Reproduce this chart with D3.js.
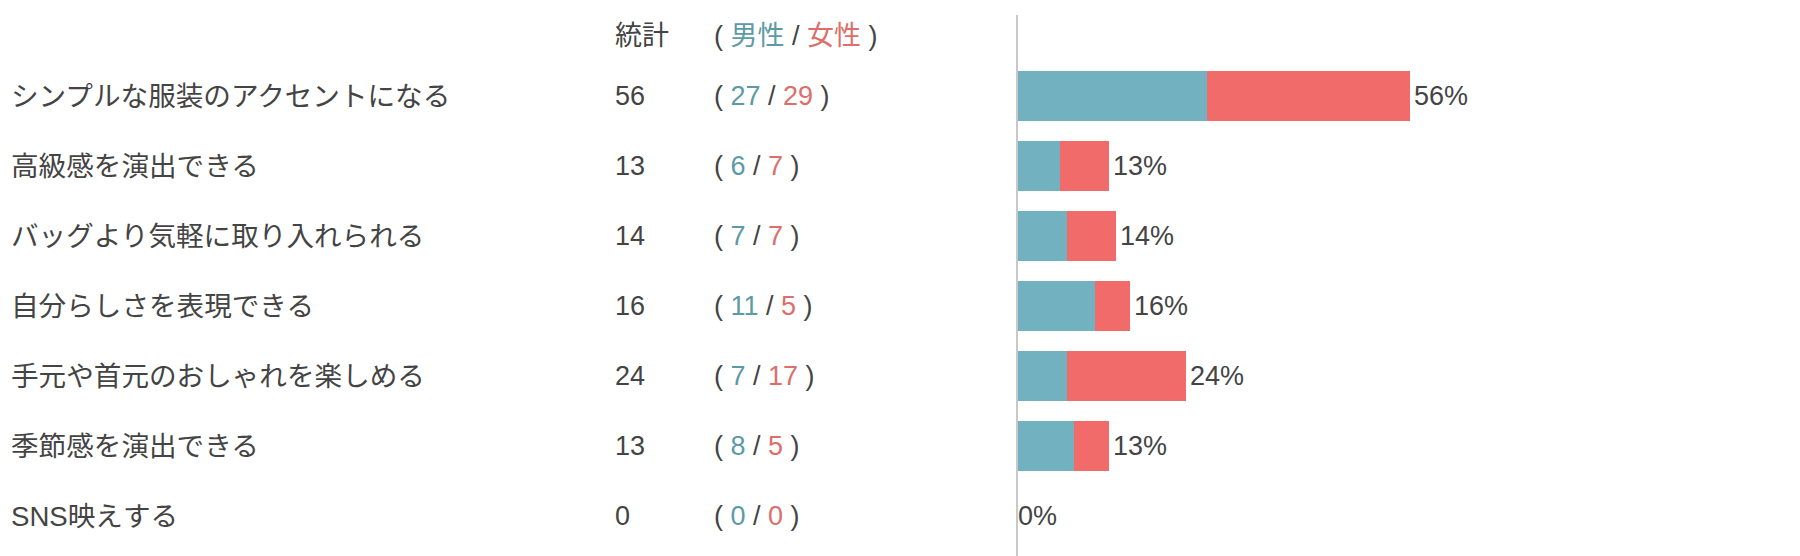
<!DOCTYPE html>
<html>
<head>
<meta charset="utf-8">
<script src="https://cdn.jsdelivr.net/npm/d3@7"></script>
<style>
  body { margin: 0; background: #fff; }
  svg { display: block; font-family: "Liberation Sans", "Noto Sans CJK JP", sans-serif; }
  .txt { font-size: 27px; fill: #444; }
  .lbl { font-size: 27.6px; }
</style>
</head>
<body>
<div id="vis"></div>
<script>
const categories = [
  "シンプルな服装のアクセントになる",
  "高級感を演出できる",
  "バッグより気軽に取り入れられる",
  "自分らしさを表現できる",
  "手元や首元のおしゃれを楽しめる",
  "季節感を演出できる",
  "SNS映えする"
];
const male = [27, 6, 7, 11, 7, 8, 0];
const female = [29, 7, 7, 5, 17, 5, 0];
const totals = [56, 13, 14, 16, 24, 13, 0];
const headerTotal = "統計";
const headerMale = "男性";
const headerFemale = "女性";

const FRAME_WIDTH = 1800;
const FRAME_HEIGHT = 556;
const COL = { label: 11, total: 615, split: 714 };
const AXIS_X = 1017;
const BAR_BLUE = "#72b1bf";
const BAR_RED = "#f06b69";
const TXT_BLUE = "#5c9ba5";
const TXT_RED = "#dc6f6a";

const rows = categories.map((c, i) => ({ cat: c, m: male[i], f: female[i], t: totals[i] }));

const FRAME = d3.select("#vis")
  .append("svg")
  .attr("width", FRAME_WIDTH)
  .attr("height", FRAME_HEIGHT);

const Y_SCALE = d3.scaleBand()
  .domain(categories)
  .range([61, 551])
  .paddingInner(2 / 7)
  .paddingOuter(1 / 7);

const X_SCALE = d3.scaleLinear().domain([0, 100]).range([AXIS_X + 1, AXIS_X + 701]);

const mid = (d) => Y_SCALE(d.cat) + Y_SCALE.bandwidth() / 2;

// header row
const HEADER_Y = 36;
FRAME.append("text").attr("class", "txt")
  .attr("x", COL.total).attr("y", HEADER_Y)
  .attr("dominant-baseline", "central")
  .text(headerTotal);

const head = FRAME.append("text").attr("class", "txt")
  .attr("x", COL.split).attr("y", HEADER_Y)
  .attr("dominant-baseline", "central")
  .attr("xml:space", "preserve");
head.append("tspan").text("( ");
head.append("tspan").style("fill", TXT_BLUE).text(headerMale);
head.append("tspan").text(" / ");
head.append("tspan").style("fill", TXT_RED).text(headerFemale);
head.append("tspan").text(" )");

// axis line
FRAME.append("line")
  .attr("x1", AXIS_X).attr("x2", AXIS_X)
  .attr("y1", 15).attr("y2", FRAME_HEIGHT)
  .attr("stroke", "#c8c8c8")
  .attr("stroke-width", 2);

const row = FRAME.selectAll(".row")
  .data(rows)
  .enter()
  .append("g")
  .attr("class", "row");

row.append("text").attr("class", "txt lbl")
  .attr("x", COL.label).attr("y", mid)
  .attr("dominant-baseline", "central")
  .text((d) => d.cat);

row.append("text").attr("class", "txt")
  .attr("x", COL.total).attr("y", mid)
  .attr("dominant-baseline", "central")
  .text((d) => d.t);

row.append("text").attr("class", "txt")
  .attr("x", COL.split).attr("y", mid)
  .attr("dominant-baseline", "central")
  .attr("xml:space", "preserve")
  .each(function (d) {
    const t = d3.select(this);
    t.append("tspan").text("( ");
    t.append("tspan").style("fill", TXT_BLUE).text(d.m);
    t.append("tspan").text(" / ");
    t.append("tspan").style("fill", TXT_RED).text(d.f);
    t.append("tspan").text(" )");
  });

// stacked bars
row.filter((d) => d.m > 0).append("rect")
  .attr("x", X_SCALE(0))
  .attr("y", (d) => Y_SCALE(d.cat))
  .attr("width", (d) => X_SCALE(d.m) - X_SCALE(0))
  .attr("height", Y_SCALE.bandwidth())
  .attr("fill", BAR_BLUE);

row.filter((d) => d.f > 0).append("rect")
  .attr("x", (d) => X_SCALE(d.m))
  .attr("y", (d) => Y_SCALE(d.cat))
  .attr("width", (d) => X_SCALE(d.m + d.f) - X_SCALE(d.m))
  .attr("height", Y_SCALE.bandwidth())
  .attr("fill", BAR_RED);

row.append("text").attr("class", "txt")
  .attr("x", (d) => X_SCALE(d.t) + (d.t > 0 ? 4 : 0))
  .attr("y", mid)
  .attr("dominant-baseline", "central")
  .text((d) => d.t + "%");
</script>
</body>
</html>
